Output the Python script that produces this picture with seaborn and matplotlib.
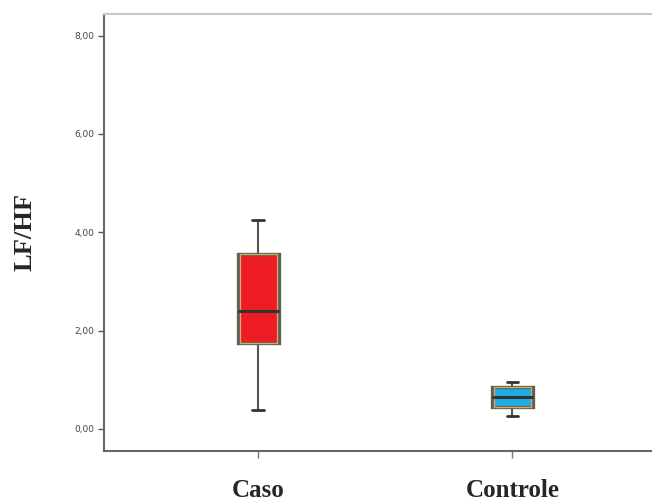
import pandas as pd
import matplotlib.pyplot as plt
import seaborn as sns

# five-number summaries (min, Q1, median, Q3, max)
groups = ['Caso', 'Controle']
caso_values = [0.39, 1.75, 2.40, 3.56, 4.25]
controle_values = [0.26, 0.45, 0.65, 0.85, 0.96]
box_colors = ['#ED1C24', '#1CADE4']
y_ticks = [0, 2, 4, 6, 8]
y_tick_labels = ['0,00', '2,00', '4,00', '6,00', '8,00']

df = pd.DataFrame({
    'Grupo': ['Caso'] * len(caso_values) + ['Controle'] * len(controle_values),
    'LF/HF': caso_values + controle_values,
})

sns.set_style('white')
fig = plt.figure(figsize=(6.52, 5.04), dpi=100)
ax = fig.add_axes([0.1595, 0.1052, 0.86, 0.867])

# outer dark outline
sns.boxplot(data=df, x='Grupo', y='LF/HF', hue='Grupo', palette=box_colors,
            order=groups, width=0.163, whis=1.5, legend=False, ax=ax,
            saturation=1, linewidth=2.4, linecolor='#5f5f55',
            capwidths=0.045,
            capprops={'color': '#333333', 'linewidth': 2.0},
            whiskerprops={'color': '#555555', 'linewidth': 1.5},
            medianprops={'color': '#333333', 'linewidth': 2.2})
# tan inner border
sns.boxplot(data=df, x='Grupo', y='LF/HF', order=groups, width=0.145,
            whis=1.5, ax=ax, fill=False, linewidth=0.9, color='#D9A86A',
            capwidths=0.0, whiskerprops={'linewidth': 0},
            capprops={'linewidth': 0},
            medianprops={'linewidth': 0})

ax.set_xlim(-0.607, 1.6)
ax.set_ylim(-0.45, 8.44)
ax.set_yticks(y_ticks)
ax.set_yticklabels(y_tick_labels, fontsize=6.5, color='#444444',
                   family='DejaVu Sans')
ax.set_xticks([0, 1])
ax.set_xticklabels(groups, fontsize=18, fontweight='bold',
                   family='Liberation Serif')
ax.tick_params(axis='y', length=4, width=1, color='#555555', pad=3, left=True)
ax.tick_params(axis='x', length=5, width=1, color='#777777', pad=15,
               bottom=True)
ax.set_xlabel('')
ax.set_ylabel('LF/HF', fontsize=19, fontweight='bold',
              family='Liberation Serif', labelpad=27)

for side in ['left', 'bottom']:
    ax.spines[side].set_color('#666666')
    ax.spines[side].set_linewidth(1.5)
ax.spines['top'].set_color('#c8c8c8')
ax.spines['top'].set_linewidth(1.5)
ax.spines['right'].set_visible(False)

plt.savefig('out.png', dpi=100)
